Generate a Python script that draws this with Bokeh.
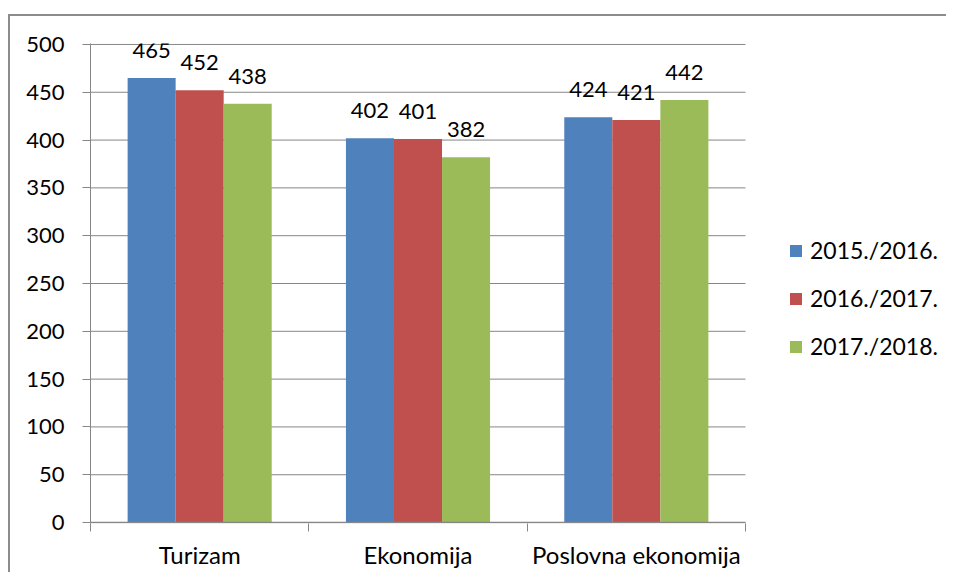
from bokeh.plotting import figure
from bokeh.models import ColumnDataSource, FixedTicker, Legend, LegendItem, Range1d, LabelSet
from bokeh.core.properties import value
from bokeh.embed import file_html
from bokeh.resources import INLINE

categories = ["Turizam", "Ekonomija", "Poslovna ekonomija"]
years = ["2015./2016.", "2016./2017.", "2017./2018."]
v2015 = [465, 402, 424]
v2016 = [452, 401, 421]
v2017 = [438, 382, 442]
colors = ["#4F81BD", "#C0504D", "#9BBB59"]
y_ticks = list(range(0, 501, 50))

FONT = "Lato"
GRAY = "#868686"

n = len(categories)
W = 946
# frame spans beyond the category area so the legend can sit inside it
x_end = n * (W - 90) / (745 - 90)

p = figure(width=W, height=572, output_backend="svg", toolbar_location=None,
           x_range=Range1d(0, x_end), y_range=Range1d(-1, 501),
           min_border_left=90, min_border_top=43, min_border_bottom=49, min_border_right=0)
p.border_fill_color = None
p.background_fill_color = None
line = "linear-gradient(#8c8c8c, #8c8c8c)"
p.styles = {"background": f"{line} 8px 14px / 940px 2px no-repeat, "
                          f"{line} 8px 14px / 2px 700px no-repeat, white"}
p.outline_line_color = None
p.xgrid.visible = False
p.ygrid.visible = False

# horizontal gridlines across category area only
p.segment(x0=[0] * len(y_ticks), x1=[n] * len(y_ticks), y0=y_ticks, y1=y_ticks,
          line_color=GRAY, line_width=1, level="underlay")

width = 0.22
offsets = [-width, 0.0, width]
series = [v2015, v2016, v2017]
items = []
for s, vals, off, col in zip(years, series, offsets, colors):
    xs = [i + 0.5 + off for i in range(n)]
    src = ColumnDataSource(dict(x=xs, top=vals, lbl=[str(v) for v in vals]))
    r = p.vbar(x="x", top="top", width=width, source=src, fill_color=col, line_color=None)
    items.append(LegendItem(label=s, renderers=[r]))
    lab = LabelSet(x="x", y="top", text="lbl", source=src, text_align="center",
                   text_baseline="bottom", y_offset=20, text_font=value(FONT),
                   text_font_size="22px", text_color="black")
    p.add_layout(lab)

# x axis baseline (category area only)
p.segment(x0=[0], x1=[n], y0=[0], y1=[0], line_color=GRAY, line_width=1.5)

yax = p.yaxis[0]
yax.ticker = FixedTicker(ticks=y_ticks)
yax.axis_line_color = GRAY
yax.major_tick_line_color = GRAY
yax.major_tick_out = 8
yax.major_tick_in = 0
yax.minor_tick_line_color = None
yax.major_label_text_font = FONT
yax.major_label_text_font_size = "22px"
yax.major_label_text_color = "black"
yax.major_label_standoff = 18

xax = p.xaxis[0]
centers = [i + 0.5 for i in range(n)]
xax.ticker = FixedTicker(ticks=centers, minor_ticks=list(range(n + 1)))
xax.major_label_overrides = {c: name for c, name in zip(centers, categories)}
xax.axis_line_color = None
xax.major_tick_line_color = None
xax.major_tick_out = 0
xax.minor_tick_line_color = GRAY
xax.minor_tick_out = 8
xax.minor_tick_in = 0
xax.major_label_text_font = FONT
xax.major_label_text_font_size = "24px"
xax.major_label_text_color = "black"
xax.major_label_standoff = 8

legend = Legend(items=items, location=(698, 163), orientation="vertical",
                label_text_font=FONT, label_text_font_size="23px", label_text_color="black",
                glyph_width=15, glyph_height=15, label_standoff=7, spacing=20,
                label_height=24, padding=0, margin=0, border_line_color=None,
                background_fill_alpha=0)
p.add_layout(legend)

open("out.html", "w").write(file_html(p, INLINE))
